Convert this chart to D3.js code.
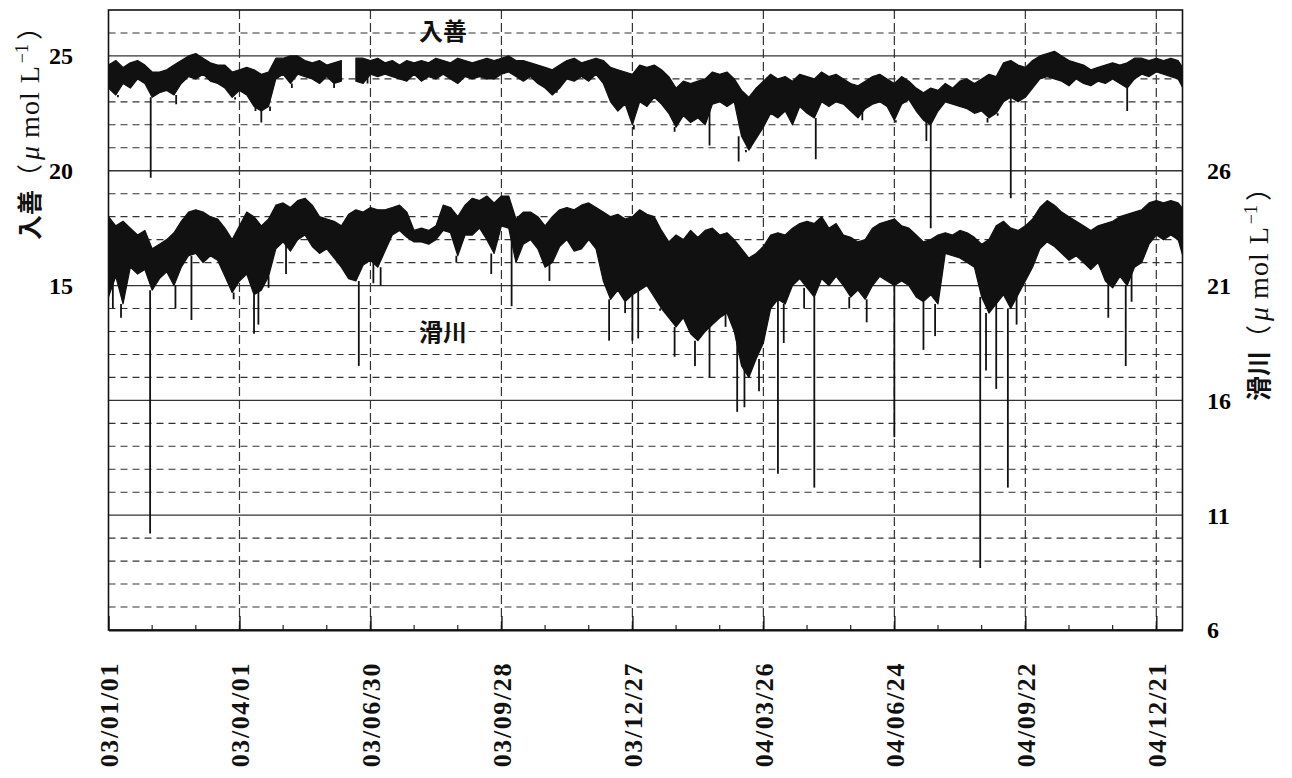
<!DOCTYPE html>
<html>
<head>
<meta charset="UTF-8">
<style>
  body { margin: 0; background: white; }
  svg { display: block; }
  .num { font-family: "Liberation Serif", serif; font-weight: bold; font-size: 24px; }
  .cjk { font-family: "Noto Sans CJK JP", sans-serif; }
</style>
</head>
<body>
<svg></svg>
<script src="https://d3js.org/d3.v7.min.js"></script>
<script>

let width = 1292, height = 778;

// date labels on the bottom axis (yy/mm/dd)
let tickLabels = ["03/01/01", "03/04/01", "03/06/30", "03/09/28", "03/12/27",
                  "04/03/26", "04/06/24", "04/09/22", "04/12/21"];

let leftTicks = [25, 20, 15];
let rightTicks = [26, 21, 16, 11, 6];

// samples every 5 days from 2003/01/01, upper and lower edge of the trace
let step = 5;

// 入善 (left axis)
let nyuzenHi = [
  24.6,24.8,24.5,24.7,24.8,24.6,24.3,24.3,24.4,24.6,
  24.8,25.0,25.1,24.9,24.7,24.6,24.6,24.3,24.4,24.5,
  24.4,24.2,24.3,24.9,24.9,25.0,25.0,24.8,24.7,24.8,
  24.6,24.7,24.8,null,24.9,24.9,24.8,24.9,24.7,24.8,
  24.6,24.8,24.7,24.8,24.7,24.9,24.8,24.7,24.9,24.8,
  24.7,24.8,24.9,24.8,24.9,25.0,24.8,24.8,24.7,24.6,
  24.5,24.4,24.6,24.8,24.9,24.7,24.8,24.9,24.8,24.5,
  24.4,24.3,24.2,24.6,24.5,24.6,24.4,24.1,23.6,23.9,
  23.8,23.9,24.0,24.3,24.2,24.3,24.0,23.5,23.2,23.6,
  23.9,24.2,24.0,24.1,23.9,24.2,24.1,24.0,24.3,24.1,
  24.2,24.0,23.8,23.7,23.9,24.1,24.2,24.0,23.8,24.1,
  23.9,23.6,23.4,23.6,23.5,23.8,23.6,23.9,24.0,23.8,
  24.0,24.2,24.1,24.7,24.8,24.6,24.5,24.8,25.0,25.1,
  25.2,25.0,24.8,24.7,24.6,24.4,24.5,24.6,24.7,24.6,
  24.7,24.9,24.9,24.8,24.9,24.8,24.9,24.8,24.3
];
let nyuzenLo = [
  23.6,23.3,23.8,23.6,24.0,23.8,23.2,23.4,23.5,23.3,
  23.8,24.1,24.0,24.2,23.9,23.8,23.6,23.2,23.5,23.3,
  22.8,22.6,22.8,24.0,24.2,23.8,24.2,24.1,24.0,23.8,
  24.1,23.8,23.9,null,23.9,23.8,24.2,24.1,24.2,24.1,
  24.0,23.9,24.2,23.9,24.1,24.0,24.2,24.0,23.8,24.1,
  24.0,24.1,24.0,24.0,24.2,24.3,24.1,23.9,24.1,23.8,
  23.6,23.3,23.6,24.0,23.9,24.1,23.9,24.2,23.8,23.0,
  22.6,22.9,22.0,23.0,22.8,23.2,22.9,22.5,21.9,22.4,
  22.1,22.3,22.0,22.9,23.0,22.8,23.0,21.5,20.9,21.4,
  21.9,22.5,22.3,22.6,22.0,22.8,22.5,22.3,23.0,22.8,
  23.0,22.9,22.6,22.3,22.7,22.9,23.0,22.8,22.2,22.9,
  23.1,22.6,22.2,22.0,22.6,23.0,22.9,22.8,22.7,22.5,
  22.6,22.3,22.5,23.0,23.2,23.0,23.2,23.6,24.0,24.1,
  24.0,23.9,23.7,24.0,23.8,23.7,23.9,23.8,24.0,23.8,
  23.6,24.0,24.2,24.1,24.3,24.2,24.1,24.0,23.4
];
// sharp downward spikes: day since 2003/01/01 and minimum value
let nyuzenSpikeDay = [6.5, 29, 46.5, 87, 101, 105, 111, 126, 155, 178, 308, 361, 389,
                      413, 433, 438, 486, 518, 541, 562, 565, 604, 611, 620, 700];
let nyuzenSpikeVal = [23.2, 19.7, 22.9, 23.1, 22.6, 22.1, 22.6, 23.6, 23.6, 23.8, 23.4, 21.8, 21.7,
                      21.1, 20.4, 20.8, 20.5, 22.2, 22.1, 21.3, 17.5, 22.1, 22.4, 18.8, 22.6];

// 滑川 (right axis)
let namerikawaHi = [
  24.0,23.6,23.8,23.5,23.2,23.4,22.6,22.8,23.0,23.3,
  23.8,24.2,24.3,24.2,24.0,23.9,23.5,23.0,23.6,24.2,
  24.0,23.6,23.9,24.5,24.6,24.4,24.7,24.8,24.5,24.0,
  23.9,23.8,23.6,24.1,24.3,24.2,24.4,24.3,24.3,24.4,
  24.5,24.2,23.4,23.5,23.4,23.6,24.5,24.4,24.0,24.5,
  24.8,24.7,24.9,24.6,24.9,24.9,23.9,24.2,24.2,24.0,
  23.6,24.0,24.3,24.4,24.3,24.5,24.6,24.4,24.2,24.0,
  24.1,23.9,24.0,24.3,24.1,24.0,23.4,22.9,23.2,23.0,
  23.4,23.1,23.4,23.5,23.2,23.3,23.0,22.6,22.2,22.4,
  22.7,23.2,23.3,23.2,23.5,23.7,23.8,23.7,24.0,23.5,
  23.7,23.2,23.1,22.9,23.0,23.5,23.7,23.8,23.9,23.6,
  23.5,23.2,22.9,23.0,23.2,23.3,23.2,23.4,23.3,23.1,
  22.8,23.0,23.6,23.8,23.5,23.4,23.6,23.9,24.4,24.7,
  24.5,24.2,24.0,23.8,23.6,23.4,23.6,23.7,23.8,24.0,
  24.1,24.2,24.3,24.6,24.7,24.6,24.7,24.6,24.2
];
let namerikawaLo = [
  20.5,21.4,20.2,21.8,21.5,21.7,20.8,21.3,21.6,21.0,
  21.8,22.3,22.4,22.0,22.3,22.1,21.4,20.7,21.2,21.5,
  20.6,20.8,21.4,22.6,22.9,22.5,23.0,23.2,22.7,22.4,
  22.6,22.2,21.8,21.3,21.2,21.9,22.1,21.8,22.5,23.2,
  23.4,23.1,22.9,22.9,22.8,23.0,23.4,23.3,22.3,23.2,
  23.2,23.5,23.0,22.4,23.6,23.5,22.0,22.8,23.0,22.6,
  21.8,22.0,22.7,23.0,22.5,22.6,23.0,22.6,21.2,20.4,
  20.8,20.3,20.6,20.8,21.0,20.5,20.0,19.6,19.2,19.6,
  18.9,18.6,19.0,19.3,19.6,19.8,19.0,17.5,17.0,17.8,
  18.5,20.0,20.4,20.2,21.0,21.3,20.9,20.5,21.3,21.0,
  21.4,21.0,20.5,20.8,20.4,21.0,21.4,21.2,21.0,21.2,
  21.0,20.5,20.3,20.6,20.2,22.4,22.3,22.2,22.0,21.8,
  20.5,19.8,20.2,20.6,20.0,20.6,21.2,21.8,22.6,22.9,
  22.7,22.4,22.1,22.3,22.0,21.7,22.0,21.2,20.9,21.4,
  21.0,21.8,22.0,22.8,23.2,23.0,23.2,23.0,21.9
];
let namerikawaSpikeDay = [3, 8.6, 28.6, 46, 57, 86, 100, 103, 110, 122, 172, 182, 187, 239, 263,
                          277, 303, 344, 355, 360, 364, 379, 389, 403, 413, 424, 432, 437, 447, 460,
                          464, 478, 485, 509, 521, 540, 560, 568, 599, 603, 610, 618, 624, 687, 699, 703];
let namerikawaSpikeVal = [20.0, 19.6, 10.2, 20.0, 19.5, 20.4, 18.9, 19.3, 20.9, 21.5, 17.5, 21.1, 21.0, 22.0, 21.5,
                          20.1, 21.2, 18.6, 19.8, 18.6, 18.7, 19.9, 17.9, 17.5, 17.0, 19.2, 15.5, 15.7, 16.4, 12.8,
                          18.5, 20.0, 12.2, 20.0, 19.4, 14.4, 18.2, 18.8, 8.7, 17.3, 16.5, 12.2, 19.3, 19.6, 17.5, 20.3];

let svg = d3.select("svg").attr("width", width).attr("height", height);

let plotLeft = 108.5, plotRight = 1182.5, plotTop = 10, plotBottom = 630;

let start = new Date(2003, 0, 1);
let dayToDate = d => new Date(start.getTime() + d * 864e5);
let parseTick = d3.timeParse("%y/%m/%d");
let tickDates = tickLabels.map(parseTick);

let x = d3.scaleTime().domain([start, new Date(2005, 0, 8)]).range([plotLeft, plotRight]);
let yL = d3.scaleLinear().domain([0, 27]).range([plotBottom, plotTop]);
let yR = d3.scaleLinear().domain([6, 33]).range([plotBottom, plotTop]);

// grid: solid every 5, dashed every 1
let grid = svg.append("g");
grid.selectAll("line.h")
    .data(d3.range(1, 27))
    .join("line")
    .attr("x1", plotLeft).attr("x2", plotRight)
    .attr("y1", d => yL(d)).attr("y2", d => yL(d))
    .attr("stroke", "#333")
    .attr("stroke-width", d => d % 5 == 0 ? 1.3 : 1.1)
    .attr("stroke-dasharray", d => d % 5 == 0 ? null : "7,5");

grid.selectAll("line.v")
    .data(tickDates.slice(1))
    .join("line")
    .attr("x1", d => x(d)).attr("x2", d => x(d))
    .attr("y1", plotTop).attr("y2", plotBottom)
    .attr("stroke", "#333")
    .attr("stroke-width", 1.2)
    .attr("stroke-dasharray", "9,4");

// minor ticks every 30 days
grid.selectAll("line.m")
    .data(d3.range(30, 738, 30).map(dayToDate))
    .join("line")
    .attr("x1", d => x(d)).attr("x2", d => x(d))
    .attr("y1", plotBottom).attr("y2", plotBottom - 5)
    .attr("stroke", "#222").attr("stroke-width", 1.2);

// data
svg.append("clipPath").attr("id", "clip")
    .append("rect").attr("x", plotLeft).attr("y", plotTop)
    .attr("width", plotRight - plotLeft).attr("height", plotBottom - plotTop);
let plot = svg.append("g").attr("clip-path", "url(#clip)");

function drawSeries(hi, lo, y, spikeDay, spikeVal) {
    let rows = hi.map((h, i) => ({date: dayToDate(i * step), hi: h, lo: lo[i]}));
    let area = d3.area()
        .defined(d => d.hi != null)
        .x(d => x(d.date))
        .y0(d => y(d.lo))
        .y1(d => y(d.hi));
    plot.append("path")
        .datum(rows)
        .attr("d", area)
        .attr("fill", "#111")
        .attr("stroke", "#111")
        .attr("stroke-width", 1.2)
        .attr("stroke-linejoin", "round");

    plot.append("g").selectAll("line")
        .data(spikeDay)
        .join("line")
        .attr("x1", d => x(dayToDate(d))).attr("x2", d => x(dayToDate(d)))
        .attr("y1", (d, i) => y(spikeVal[i]))
        .attr("y2", d => y(lo[Math.round(d / step)]))
        .attr("stroke", "#111")
        .attr("stroke-width", 1.8);
}

drawSeries(nyuzenHi, nyuzenLo, yL, nyuzenSpikeDay, nyuzenSpikeVal);
drawSeries(namerikawaHi, namerikawaLo, yR, namerikawaSpikeDay, namerikawaSpikeVal);

// frame
svg.append("rect")
    .attr("x", plotLeft).attr("y", plotTop)
    .attr("width", plotRight - plotLeft).attr("height", plotBottom - plotTop)
    .attr("fill", "none").attr("stroke", "#111").attr("stroke-width", 1.6);

// bottom axis
let xAxis = d3.axisBottom(x)
    .tickValues(tickDates)
    .tickFormat(d3.timeFormat("%y/%m/%d"))
    .tickSizeInner(-14)
    .tickSizeOuter(0);

let gx = svg.append("g")
    .attr("transform", "translate(0," + plotBottom + ")")
    .call(xAxis);
gx.select(".domain").attr("stroke", "#111").attr("stroke-width", 2.2);
gx.selectAll(".tick line").attr("stroke", "#111").attr("stroke-width", 1.4);
gx.selectAll(".tick text")
    .attr("class", "num")
    .attr("fill", "#111")
    .attr("x", 0).attr("y", 0)
    .attr("dy", "0.36em")
    .attr("text-anchor", "end")
    .attr("transform", "translate(0,32) rotate(-90)")
    .style("font-size", "26px")
    .style("letter-spacing", "1.6px");

// left and right value labels
svg.append("g").selectAll("text")
    .data(leftTicks)
    .join("text")
    .attr("class", "num")
    .attr("x", 73).attr("y", d => yL(d))
    .attr("dy", "0.35em")
    .attr("text-anchor", "end")
    .text(d => d);

svg.append("g").selectAll("text")
    .data(rightTicks)
    .join("text")
    .attr("class", "num")
    .attr("x", 1207).attr("y", d => yR(d))
    .attr("dy", "0.35em")
    .text(d => d);

// axis titles, rotated
function unitTitle(tx, ty, name) {
    let t = svg.append("text")
        .attr("transform", "translate(" + tx + "," + ty + ") rotate(-90)")
        .attr("text-anchor", "middle")
        .attr("font-family", "Liberation Serif, serif")
        .attr("font-size", 28)
        .attr("fill", "#111");
    t.append("tspan").attr("class", "cjk").attr("font-size", 25).attr("font-weight", "bold").text(name);
    t.append("tspan").attr("class", "cjk").attr("font-size", 26).text("（");
    t.append("tspan").attr("font-style", "italic").attr("dx", 4).text("μ");
    t.append("tspan").attr("letter-spacing", 1).text(" mol L");
    t.append("tspan").attr("dy", -11).attr("dx", 2).attr("font-size", 18).text("−1");
    t.append("tspan").attr("dy", 11).attr("dx", 4).attr("class", "cjk").attr("font-size", 26).text("）");
}
unitTitle(39, 127, "入善");
unitTitle(1268, 288, "滑川");

// series names inside the plot
svg.append("text").attr("class", "cjk")
    .attr("x", 443).attr("y", 40)
    .attr("text-anchor", "middle")
    .attr("font-size", 24).attr("font-weight", "bold").attr("fill", "#111")
    .text("入善");
svg.append("text").attr("class", "cjk")
    .attr("x", 443).attr("y", 341)
    .attr("text-anchor", "middle")
    .attr("font-size", 24).attr("font-weight", "bold").attr("fill", "#111")
    .text("滑川");

</script>
</body>
</html>
